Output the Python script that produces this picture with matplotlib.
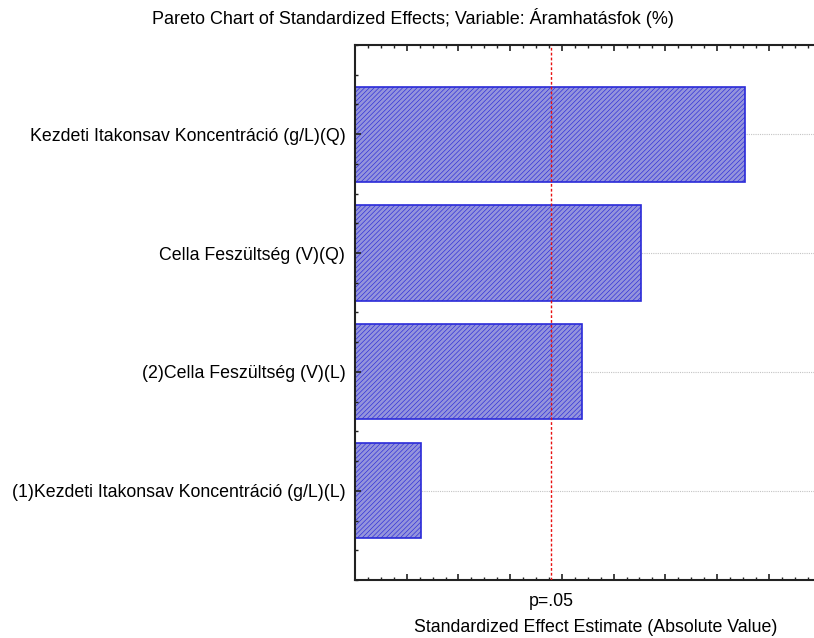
import matplotlib
matplotlib.use("Agg")
import matplotlib.pyplot as plt
from matplotlib.ticker import MultipleLocator

plt.rcParams['font.family'] = ['Liberation Sans', 'DejaVu Sans']
plt.rcParams['hatch.linewidth'] = 0.45

# effects, largest first (top of the chart)
effects = [
    "Kezdeti Itakonsav Koncentráció (g/L)(Q)",
    "Cella Feszültség (V)(Q)",
    "(2)Cella Feszültség (V)(L)",
    "(1)Kezdeti Itakonsav Koncentráció (g/L)(L)",
]
t_values = [7.54, 5.53, 4.39, 1.27]
t_crit = 3.79  # critical value at p=.05

fs = 12.8
fig = plt.figure(figsize=(8.14, 6.38), dpi=100)
ax = fig.add_axes([355 / 814, 1 - 580 / 638, (837 - 355) / 814, (580 - 45) / 638])

pos = list(range(1, len(effects) + 1))
# dotted guide lines behind the bars
for p in pos:
    ax.axhline(p, color='#c4c4c4', linestyle=(0, (1, 1)), linewidth=0.8, zorder=0)
ax.barh(pos, t_values, height=0.8, color='#9494dc', edgecolor='#2a2ad8',
        hatch='///////', linewidth=1.2, zorder=2)
ax.axvline(t_crit, color='#e81010', linestyle=(0, (2, 1.5)), linewidth=1.0, zorder=3)
ax.set_axisbelow(False)

ax.set_ylim(4.75, 0.25)
ax.set_xlim(0, 9.32)
ax.set_yticks(pos)
ax.set_yticklabels(effects, fontsize=fs)
ax.yaxis.set_minor_locator(MultipleLocator(0.25))
ax.xaxis.set_major_locator(MultipleLocator(1))
ax.xaxis.set_minor_locator(MultipleLocator(0.25))
ax.set_xticklabels([])
ax.tick_params(axis='both', which='both', direction='in', top=True, color='#222222')
ax.tick_params(which='major', length=4, width=1.2)
ax.tick_params(which='minor', length=2, width=1.0)
ax.tick_params(axis='y', pad=7)

for side in ['left', 'bottom', 'top']:
    ax.spines[side].set_linewidth(1.5)
    ax.spines[side].set_color('#222222')
ax.spines['right'].set_visible(False)

ax.text(t_crit, -21 / 535, "p=.05", transform=ax.get_xaxis_transform(),
        ha='center', va='center', fontsize=fs)
fig.text(596 / 814, 1 - 628 / 638, "Standardized Effect Estimate (Absolute Value)",
         ha='center', va='center', fontsize=fs)
fig.text(413 / 814, 1 - 18 / 638, "Pareto Chart of Standardized Effects; Variable: Áramhatásfok (%)",
         ha='center', va='center', fontsize=13)

fig.savefig("out.png", dpi=100)
